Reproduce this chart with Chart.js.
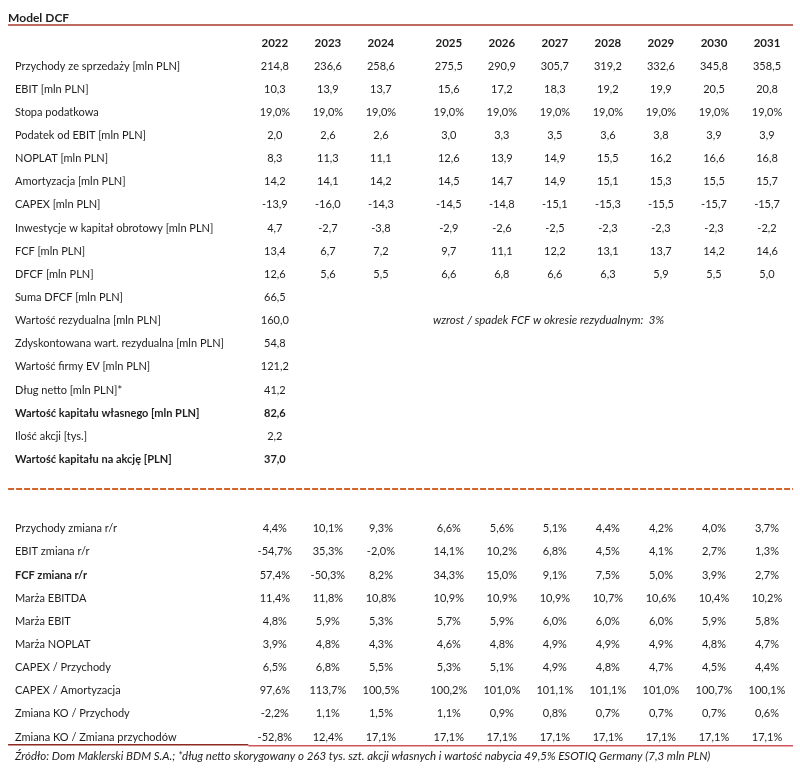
<!DOCTYPE html>
<html>
<head>
<meta charset="utf-8">
<script src="https://cdn.jsdelivr.net/npm/chart.js@4.4.0/dist/chart.umd.min.js"></script>
<style>
html, body { margin: 0; padding: 0; background: #fff; }
</style>
</head>
<body>
<canvas id="dcfTable" width="800" height="779"></canvas>
<script>
// lata prognozy
var years = ["2022", "2023", "2024", "2025", "2026", "2027", "2028", "2029", "2030", "2031"];

// część górna [mln PLN]
var przychody = [214.8, 236.6, 258.6, 275.5, 290.9, 305.7, 319.2, 332.6, 345.8, 358.5];
var ebit = [10.3, 13.9, 13.7, 15.6, 17.2, 18.3, 19.2, 19.9, 20.5, 20.8];
var stopaPodatkowa = [19.0, 19.0, 19.0, 19.0, 19.0, 19.0, 19.0, 19.0, 19.0, 19.0];
var podatekEbit = [2.0, 2.6, 2.6, 3.0, 3.3, 3.5, 3.6, 3.8, 3.9, 3.9];
var noplat = [8.3, 11.3, 11.1, 12.6, 13.9, 14.9, 15.5, 16.2, 16.6, 16.8];
var amortyzacja = [14.2, 14.1, 14.2, 14.5, 14.7, 14.9, 15.1, 15.3, 15.5, 15.7];
var capex = [-13.9, -16.0, -14.3, -14.5, -14.8, -15.1, -15.3, -15.5, -15.7, -15.7];
var inwestycjeKO = [4.7, -2.7, -3.8, -2.9, -2.6, -2.5, -2.3, -2.3, -2.3, -2.2];
var fcf = [13.4, 6.7, 7.2, 9.7, 11.1, 12.2, 13.1, 13.7, 14.2, 14.6];
var dfcf = [12.6, 5.6, 5.5, 6.6, 6.8, 6.6, 6.3, 5.9, 5.5, 5.0];

// wycena
var sumaDfcf = [66.5];
var wartoscRezydualna = [160.0];
var zdyskontowanaRez = [54.8];
var wartoscEV = [121.2];
var dlugNetto = [41.2];
var kapitalWlasny = [82.6];
var iloscAkcji = [2.2];
var wartoscNaAkcje = [37.0];
var wzrostRezydualny = 3;

// część dolna [%]
var przychodyZmiana = [4.4, 10.1, 9.3, 6.6, 5.6, 5.1, 4.4, 4.2, 4.0, 3.7];
var ebitZmiana = [-54.7, 35.3, -2.0, 14.1, 10.2, 6.8, 4.5, 4.1, 2.7, 1.3];
var fcfZmiana = [57.4, -50.3, 8.2, 34.3, 15.0, 9.1, 7.5, 5.0, 3.9, 2.7];
var marzaEbitda = [11.4, 11.8, 10.8, 10.9, 10.9, 10.9, 10.7, 10.6, 10.4, 10.2];
var marzaEbit = [4.8, 5.9, 5.3, 5.7, 5.9, 6.0, 6.0, 6.0, 5.9, 5.8];
var marzaNoplat = [3.9, 4.8, 4.3, 4.6, 4.8, 4.9, 4.9, 4.9, 4.8, 4.7];
var capexPrzychody = [6.5, 6.8, 5.5, 5.3, 5.1, 4.9, 4.8, 4.7, 4.5, 4.4];
var capexAmortyzacja = [97.6, 113.7, 100.5, 100.2, 101.0, 101.1, 101.1, 101.0, 100.7, 100.1];
var koPrzychody = [-2.2, 1.1, 1.5, 1.1, 0.9, 0.8, 0.7, 0.7, 0.7, 0.6];
var koZmianaPrzychodow = [-52.8, 12.4, 17.1, 17.1, 17.1, 17.1, 17.1, 17.1, 17.1, 17.1];

var rows = [
  { label: "Przychody ze sprzedaży [mln PLN]", values: przychody },
  { label: "EBIT [mln PLN]", values: ebit },
  { label: "Stopa podatkowa", values: stopaPodatkowa, pct: true },
  { label: "Podatek od EBIT [mln PLN]", values: podatekEbit },
  { label: "NOPLAT [mln PLN]", values: noplat },
  { label: "Amortyzacja [mln PLN]", values: amortyzacja },
  { label: "CAPEX [mln PLN]", values: capex },
  { label: "Inwestycje w kapitał obrotowy [mln PLN]", values: inwestycjeKO },
  { label: "FCF [mln PLN]", values: fcf },
  { label: "DFCF [mln PLN]", values: dfcf },
  { label: "Suma DFCF [mln PLN]", values: sumaDfcf },
  { label: "Wartość rezydualna [mln PLN]", values: wartoscRezydualna },
  { label: "Zdyskontowana wart. rezydualna [mln PLN]", values: zdyskontowanaRez },
  { label: "Wartość firmy EV [mln PLN]", values: wartoscEV },
  { label: "Dług netto [mln PLN]*", values: dlugNetto },
  { label: "Wartość kapitału własnego [mln PLN]", values: kapitalWlasny, bold: true, boldValues: true },
  { label: "Ilość akcji [tys.]", values: iloscAkcji },
  { label: "Wartość kapitału na akcję [PLN]", values: wartoscNaAkcje, bold: true, boldValues: true },
  null,
  null,
  { label: "Przychody zmiana r/r", values: przychodyZmiana, pct: true },
  { label: "EBIT zmiana r/r", values: ebitZmiana, pct: true },
  { label: "FCF zmiana r/r", values: fcfZmiana, pct: true, bold: true },
  { label: "Marża EBITDA", values: marzaEbitda, pct: true },
  { label: "Marża EBIT", values: marzaEbit, pct: true },
  { label: "Marża NOPLAT", values: marzaNoplat, pct: true },
  { label: "CAPEX / Przychody", values: capexPrzychody, pct: true },
  { label: "CAPEX / Amortyzacja", values: capexAmortyzacja, pct: true },
  { label: "Zmiana KO / Przychody", values: koPrzychody, pct: true },
  { label: "Zmiana KO / Zmiana przychodów", values: koZmianaPrzychodow, pct: true }
];

// układ: pozycje kolumn na osi x (przerwa po 2024), wiersze na osi y
var LABEL_X = -4.9;
var LEFT_EDGE = -5.03;
var SPLIT_X = -0.5;
var RIGHT_EDGE = 9.77;
function colPos(i) { return i + (i >= 3 ? 0.28 : 0); }

var FONT = "Lato, 'Open Sans', sans-serif";
var TEXT = "#1e1e1e";

function fmt(v, pct) {
  return v.toFixed(1).replace(".", ",") + (pct ? "%" : "");
}

var datasets = rows.map(function (r, k) {
  if (!r) return { data: [] };
  return {
    label: r.label,
    rowInfo: r,
    data: r.values.map(function (v, i) { return { x: colPos(i), y: k + 1 }; }),
    pointRadius: 0,
    showLine: false
  };
});

var tablePlugin = {
  id: "tablePlugin",
  afterDatasetsDraw: function (chart) {
    var ctx = chart.ctx;
    var xs = chart.scales.x, ys = chart.scales.y;
    function hline(x0, x1, y, color, w) {
      ctx.strokeStyle = color;
      ctx.lineWidth = w;
      ctx.beginPath();
      ctx.moveTo(xs.getPixelForValue(x0), ys.getPixelForValue(y));
      ctx.lineTo(xs.getPixelForValue(x1), ys.getPixelForValue(y));
      ctx.stroke();
    }
    ctx.save();
    ctx.fillStyle = TEXT;
    ctx.textBaseline = "middle";

    // tytuł
    ctx.font = "bold 12px " + FONT;
    ctx.textAlign = "left";
    ctx.fillText("Model DCF", xs.getPixelForValue(LEFT_EDGE), ys.getPixelForValue(-1.08));
    hline(LEFT_EDGE, RIGHT_EDGE, -0.78, "#a83a2c", 1.5);

    // nagłówek lat
    ctx.font = "bold 11.5px " + FONT;
    ctx.textAlign = "center";
    years.forEach(function (y, i) {
      ctx.fillText(y, xs.getPixelForValue(colPos(i)), ys.getPixelForValue(0));
    });

    // wiersze
    chart.data.datasets.forEach(function (ds, k) {
      var r = ds.rowInfo;
      if (!r) return;
      var meta = chart.getDatasetMeta(k);
      ctx.textAlign = "left";
      ctx.font = (r.bold ? "bold " : "") + "11px " + FONT;
      ctx.fillText(r.label, xs.getPixelForValue(LABEL_X), ys.getPixelForValue(k + 1));
      ctx.textAlign = "center";
      ctx.font = (r.boldValues ? "bold " : "") + "11px " + FONT;
      meta.data.forEach(function (pt, i) {
        ctx.fillText(fmt(r.values[i], r.pct), pt.x, pt.y);
      });
    });

    // komentarz do wartości rezydualnej
    ctx.textAlign = "left";
    ctx.font = "italic 11.5px " + FONT;
    ctx.fillText("wzrost / spadek FCF w okresie rezydualnym:  " + wzrostRezydualny + "%",
      xs.getPixelForValue(2.98), ys.getPixelForValue(12));

    // przerywana linia
    ctx.setLineDash([6, 2]);
    hline(LEFT_EDGE, RIGHT_EDGE, 19.28, "#d2642e", 2);
    ctx.setLineDash([]);

    // linia dolna i źródło
    hline(LEFT_EDGE, SPLIT_X, 30.33, "#8e2a22", 1.5);
    hline(SPLIT_X, RIGHT_EDGE, 30.38, "#d0545c", 1.5);

    ctx.font = "italic 11.5px " + FONT;
    ctx.fillText("Źródło: Dom Maklerski BDM S.A.; *dług netto skorygowany o 263 tys. szt. akcji własnych i wartość nabycia 49,5% ESOTIQ Germany (7,3 mln PLN)",
      xs.getPixelForValue(LABEL_X), ys.getPixelForValue(30.85));
    ctx.restore();
  }
};

new Chart("dcfTable", {
  type: "scatter",
  data: { datasets: datasets },
  options: {
    responsive: false,
    animation: false,
    layout: {
      padding: { left: 15, right: 33, top: 43, bottom: 42 }
    },
    scales: {
      x: { type: "linear", min: LABEL_X, max: colPos(9), display: false },
      y: { type: "linear", min: 0, max: 30, reverse: true, display: false }
    },
    plugins: {
      legend: { display: false },
      tooltip: { enabled: false }
    }
  },
  plugins: [tablePlugin]
});
</script>
</body>
</html>
